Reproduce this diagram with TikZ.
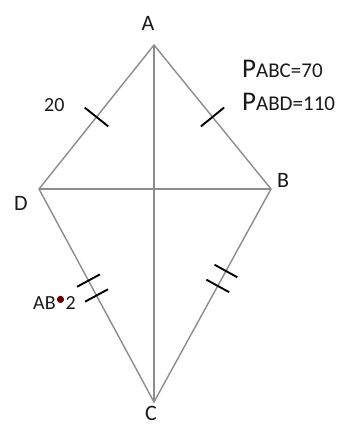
\documentclass[tikz,border=0pt]{standalone}
\usepackage{fontspec}
\setmainfont{Carlito}
\usetikzlibrary{calc}
\begin{document}
\begin{tikzpicture}[x=1pt,y=-1pt,
  edge/.style={draw=black!45,line width=1.4pt},
  tick/.style={draw=black,line width=1.9pt},
  vlabel/.style={text=black!90,font=\fontsize{22}{24}\selectfont,inner sep=0pt},
  slabel/.style={text=black!90,font=\fontsize{20}{22}\selectfont,inner sep=0pt,anchor=west}]
\useasboundingbox (0,0) rectangle (343,429);
\fill[white] (0,0) rectangle (343,429);
\coordinate (A) at (154,45);
\coordinate (B) at (271,189);
\coordinate (C) at (154,402);
\coordinate (D) at (39,189);
\draw[edge] (A) -- (B) -- (C) -- (D) -- cycle;
\draw[edge] (A) -- (C);
\draw[edge] (D) -- (B);
\node[vlabel] (la) at (148,23) {A};
\node[vlabel] (lb) at (283,180) {B};
\node[vlabel] (lc) at (151,413) {C};
\node[vlabel] (ld) at (21,203) {D};
% single ticks
\coordinate (m1) at ($(A)!0.5!(D)$);
\draw[tick] ($(m1)!15pt!90:(D)$) -- ($(m1)!15pt!-90:(D)$);
\coordinate (m2) at ($(A)!0.5!(B)$);
\draw[tick] ($(m2)!15pt!90:(B)$) -- ($(m2)!15pt!-90:(B)$);
% double ticks
\coordinate (m3) at ($(D)!0.43!(C)$);
\coordinate (m4) at ($(D)!0.50!(C)$);
\draw[tick] ($(m3)!13pt!90:(C)$) -- ($(m3)!13pt!-90:(C)$);
\draw[tick] ($(m4)!13pt!90:(C)$) -- ($(m4)!13pt!-90:(C)$);
\coordinate (m5) at ($(B)!0.385!(C)$);
\coordinate (m6) at ($(B)!0.455!(C)$);
\draw[tick] ($(m5)!13pt!90:(C)$) -- ($(m5)!13pt!-90:(C)$);
\draw[tick] ($(m6)!13pt!90:(C)$) -- ($(m6)!13pt!-90:(C)$);
\node[slabel] (l20) at (44,105) {20};
\node[slabel] (lab2) at (33,303) {AB\textcolor{red!40!black}{\raisebox{0.5ex}{\textbullet}}2};
\node[slabel,font=\fontsize{27}{29}\selectfont] (p1) at (242,69) {P\fontsize{21}{23}\selectfont ABC=70};
\node[slabel,font=\fontsize{27}{29}\selectfont] (p2) at (242,102) {P\fontsize{21}{23}\selectfont ABD=110};
\end{tikzpicture}
\end{document}
